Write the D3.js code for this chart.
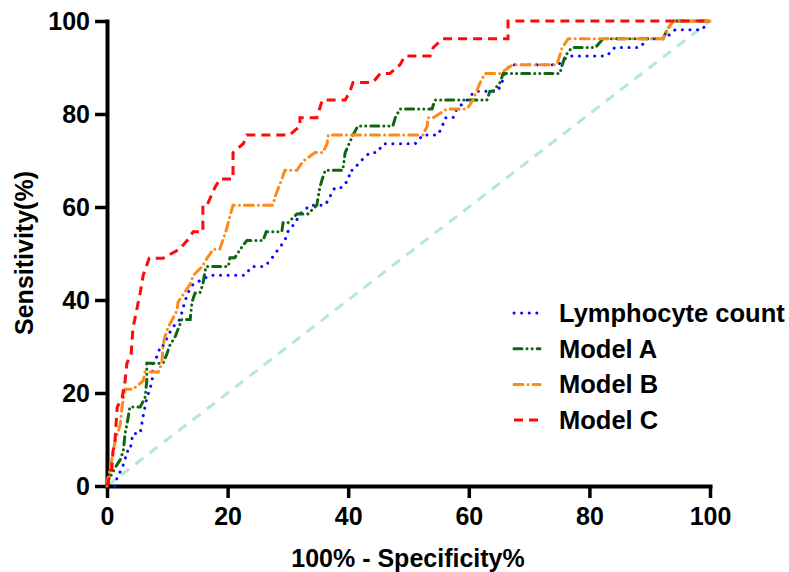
<!DOCTYPE html>
<html>
<head>
<meta charset="utf-8">
<script src="https://cdn.jsdelivr.net/npm/d3@7"></script>
<style>
  body { margin: 0; background: #fff; }
  text { font-family: "Liberation Sans", Arial, sans-serif; font-weight: bold; }
</style>
</head>
<body>
<svg id="chart" width="789" height="572"></svg>
<script>
// ROC points: [100% - specificity, sensitivity]
var lymphocyte = [[0,0],[1.3,0],[1.7,1.9],[2.5,3.8],[3,5.7],[3.3,7.5],[3.8,7.5],[4.3,11.3],[5.5,11.3],[6,15.1],[6.6,18.9],[7.1,20.8],[7.5,22.6],[7.6,26.4],[8.5,28.3],[8.8,30.2],[9.3,30.2],[10.8,34],[12.1,35.8],[12.9,39.6],[13.4,41.5],[14.3,43.4],[17.1,45.3],[22.9,45.3],[24,47.2],[26.2,47.2],[27.4,49.1],[28.4,50.9],[29.5,52.8],[30,54.7],[31.2,56.6],[32,58.5],[33.7,60.4],[36.2,60.4],[37,62.3],[37.8,64.2],[39,64.2],[40.1,66],[40.3,67.9],[40.8,67.9],[42,69.8],[43.6,71.7],[44.8,71.7],[45.8,73.6],[51.1,73.6],[52.4,75.5],[54.9,75.5],[55.6,77.4],[56.1,79.2],[57.4,79.2],[58,81.1],[59.7,83],[61,84.9],[64.8,84.9],[65.5,86.8],[66,88.7],[66.8,90.6],[74.8,90.6],[76.5,92.5],[82.9,92.5],[84.2,94.3],[88.4,94.3],[89.6,96.2],[92.5,96.2],[94.2,98.1],[98.7,98.1],[99.7,100],[100,100]];

var modelA = [[0,0],[0.2,1.9],[0.5,1.9],[1.3,3.8],[2.2,5.7],[2.7,7.5],[3,11.3],[3.3,13.2],[3.8,17],[5.5,17],[6.3,18.9],[6.6,22.6],[6.6,26.4],[9.3,26.4],[9.9,28.3],[10.4,30.2],[11.3,32.1],[12.4,35.8],[13.8,35.8],[14.1,39.6],[14.6,41.5],[15.4,41.5],[15.9,43.4],[16.4,47.2],[20.1,47.2],[20.4,49.1],[21.2,49.1],[22.1,50.9],[23.2,52.8],[25.9,52.8],[26.4,54.7],[29,54.7],[29.2,56.6],[30,56.6],[31.5,58.5],[33.3,58.5],[34.8,60.4],[35.3,64.2],[35.7,66],[36.2,67.9],[39.1,67.9],[39.5,71.7],[40.8,75.5],[41.6,77.4],[47.4,77.4],[47.8,79.2],[48.6,81.1],[53.9,81.1],[54.4,83],[63,83],[63.5,84.9],[64,84.9],[65.2,86.8],[65.7,88.7],[75.1,88.7],[75.5,90.6],[76,92.5],[77.1,94.3],[81,94.3],[82.3,96.2],[92.2,96.2],[92.9,98.1],[93.9,100],[100,100]];

var modelB = [[0,0],[0.2,1.9],[0.8,5.7],[1.3,9.4],[2.2,13.2],[2.5,17],[3,20.8],[4.3,20.8],[6,22.6],[6.3,24.5],[8.5,24.5],[9.1,26.4],[9.3,30.2],[9.6,32.1],[10.1,34],[11.6,37.7],[11.8,39.6],[13.8,43.4],[14.3,45.3],[15.8,47.2],[16.6,49],[17.6,50.9],[18.7,50.9],[19.7,54.7],[20.1,56.6],[20.9,60.4],[27.5,60.4],[27.9,62.3],[29,66],[29.5,67.9],[31.5,67.9],[32.5,69.8],[34.5,71.7],[35.8,71.7],[36.5,73.6],[36.7,75.5],[52.4,75.5],[53.1,77.4],[53.2,79.2],[54.1,79.2],[56.4,81.1],[59.7,81.1],[60.7,83],[61.9,86.8],[62.7,88.7],[65.2,88.7],[67.3,90.6],[74.6,90.6],[75.5,94.3],[76.5,96.2],[92.2,96.2],[92.9,98.1],[93.9,100],[100,100]];

var modelC = [[0,0],[0.8,3.8],[1,7.5],[1.3,9.4],[1.5,13.2],[1.7,17],[2.5,18.9],[3,22.6],[3.3,26.4],[4,28.3],[4.3,34],[4.6,35.8],[5.5,41.5],[6,45.3],[7,49],[9.3,49],[12,50.9],[13.3,52.8],[14.3,54.7],[15.9,54.7],[15.9,60.4],[16.6,60.4],[17.9,64.2],[18.7,66],[20.9,66],[20.9,71.7],[22.6,73.6],[23.2,75.5],[30.3,75.5],[32,77.4],[32,79.2],[34.8,79.2],[35.7,83],[39.5,83],[40.3,84.9],[40.8,86.8],[44.1,86.8],[45.3,88.7],[46.9,88.7],[48.6,90.6],[49.4,92.5],[53.6,92.5],[54.1,94.3],[55.7,96.2],[66.5,96.2],[66.5,100],[100,100]];

var reference = [[0,0],[100,100]];

var seriesNames = ["Lymphocyte count", "Model A", "Model B", "Model C"];
var seriesData = [lymphocyte, modelA, modelB, modelC];
var seriesColors = ["#0a0aff", "#116611", "#ff8a1c", "#ff0a0a"];
var seriesDash = ["0.1,7.5", "8,5,0.1,5,0.1,5", "9,5,0.1,5", "9,6"];
var seriesCap = ["round", "round", "round", "butt"];

var xTicks = [0, 20, 40, 60, 80, 100];
var yTicks = [0, 20, 40, 60, 80, 100];

var svg = d3.select("#chart");

var x = d3.scaleLinear().domain([0, 100]).range([107, 710]);
var y = d3.scaleLinear().domain([0, 100]).range([486, 21]);

var line = d3.line()
    .x(function(d) { return x(d[0]); })
    .y(function(d) { return y(d[1]); });

// chance line
svg.append("path")
    .attr("d", line(reference))
    .attr("fill", "none")
    .attr("stroke", "#b2e8d6")
    .attr("stroke-width", 3)
    .attr("stroke-dasharray", "10,8");

// axes
var xAxis = svg.append("g")
    .attr("transform", "translate(0," + y(0) + ")")
    .call(d3.axisBottom(x).tickValues(xTicks).tickSize(12).tickSizeOuter(0).tickPadding(9));

var yAxis = svg.append("g")
    .attr("transform", "translate(" + x(0) + ",0)")
    .call(d3.axisLeft(y).tickValues(yTicks).tickSize(12).tickSizeOuter(0).tickPadding(5));

[xAxis, yAxis].forEach(function(g) {
    g.select(".domain").attr("stroke", "#000").attr("stroke-width", 4).attr("stroke-linecap", "square");
    g.selectAll(".tick line").attr("stroke", "#000").attr("stroke-width", 3.5);
    g.selectAll(".tick text")
        .attr("fill", "#000")
        .style("font-size", "25px")
        .style("font-family", '"Liberation Sans", Arial, sans-serif')
        .style("font-weight", "bold");
});

// curves
seriesData.forEach(function(d, i) {
    svg.append("path")
        .attr("d", line(d))
        .attr("fill", "none")
        .attr("stroke", seriesColors[i])
        .attr("stroke-width", 3)
        .attr("stroke-linecap", seriesCap[i])
        .attr("stroke-dasharray", seriesDash[i]);
});

// axis titles
svg.append("text")
    .attr("x", 408)
    .attr("y", 567)
    .attr("text-anchor", "middle")
    .style("font-size", "25px")
    .text("100% - Specificity%");

svg.append("text")
    .attr("transform", "translate(33,253) rotate(-90)")
    .attr("text-anchor", "middle")
    .style("font-size", "25px")
    .text("Sensitivity(%)");

// legend
var legend = svg.append("g");
seriesNames.forEach(function(name, i) {
    var yy = 313 + i * 35.7;
    legend.append("line")
        .attr("x1", 514).attr("x2", 540)
        .attr("y1", yy).attr("y2", yy)
        .attr("stroke", seriesColors[i])
        .attr("stroke-width", 3)
        .attr("stroke-linecap", seriesCap[i])
        .attr("stroke-dasharray", seriesDash[i]);
    legend.append("text")
        .attr("x", 559)
        .attr("y", yy + 9)
        .style("font-size", "25.5px")
        .text(name);
});
</script>
</body>
</html>
